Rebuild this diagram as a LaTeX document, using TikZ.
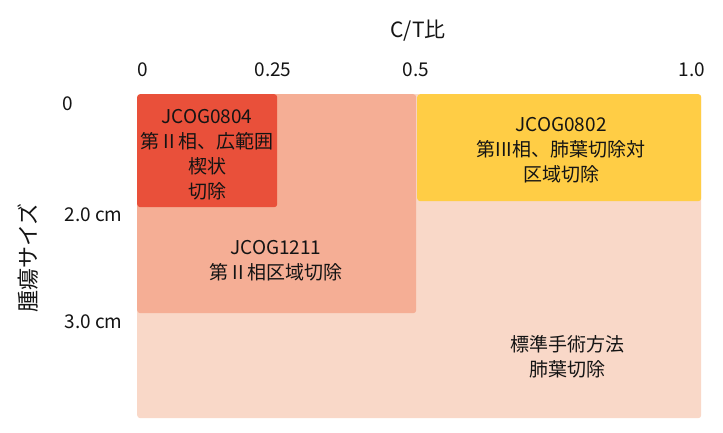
\documentclass[tikz,border=0pt]{standalone}
\usepackage{fontspec}
\setmainfont{Noto Sans CJK JP}
\usepackage{tikz}
\usepackage{xcolor}
\definecolor{wedgered}{HTML}{E9503A}
\definecolor{segsalmon}{HTML}{F5AE95}
\definecolor{lobepeach}{HTML}{F9D8C8}
\definecolor{sunyellow}{HTML}{FFCD45}
\definecolor{inkgray}{HTML}{141414}

\begin{document}
\begin{tikzpicture}[x=1pt, y=1pt,
    zone/.style={rounded corners=3pt, inner sep=0pt, anchor=north west},
    boxtext/.style={text=inkgray, align=center, font=\fontsize{19}{25}\selectfont},
    axislbl/.style={text=inkgray, font=\fontsize{19}{22}\selectfont}]
    \useasboundingbox (0,0) rectangle (723,432);
    % areas
    \node[zone, fill=lobepeach, minimum width=564, minimum height=324] (lobe) at (137,338) {};
    \node[zone, fill=segsalmon, minimum width=279, minimum height=219] (segment) at (137,338) {};
    \node[zone, fill=wedgered, minimum width=140, minimum height=113] (wedge) at (137,338) {};
    \node[zone, fill=sunyellow, minimum width=284, minimum height=107] (phase3) at (417,338) {};
    % texts
    \node[boxtext] (wedgelbl) at (207,277) {JCOG0804\\第 II 相、広範囲\\楔状\\切除};
    \node[boxtext] (phase3lbl) at (561,282) {JCOG0802\\第III相、肺葉切除対\\区域切除};
    \node[boxtext] (segmentlbl) at (276,171) {JCOG1211\\第 II 相区域切除};
    \node[boxtext] (lobelbl) at (567,75) {標準手術方法\\肺葉切除};
    % axes
    \node[axislbl, font=\fontsize{21}{24}\selectfont] (cttitle) at (418,401) {C/T比};
    \node[axislbl] (ct0) at (143,362) {0};
    \node[axislbl] (ct025) at (273,362) {0.25};
    \node[axislbl] (ct05) at (416,362) {0.5};
    \node[axislbl] (ct10) at (692,362) {1.0};
    \node[axislbl] (sz0) at (68,328) {0};
    \node[axislbl, anchor=east] (sz2) at (126,217) {2.0 cm};
    \node[axislbl, anchor=east] (sz3) at (126,110) {3.0 cm};
    \node[axislbl, font=\fontsize{22}{24}\selectfont, rotate=90] (sztitle) at (28,174) {腫瘍サイズ};
\end{tikzpicture}
\end{document}
